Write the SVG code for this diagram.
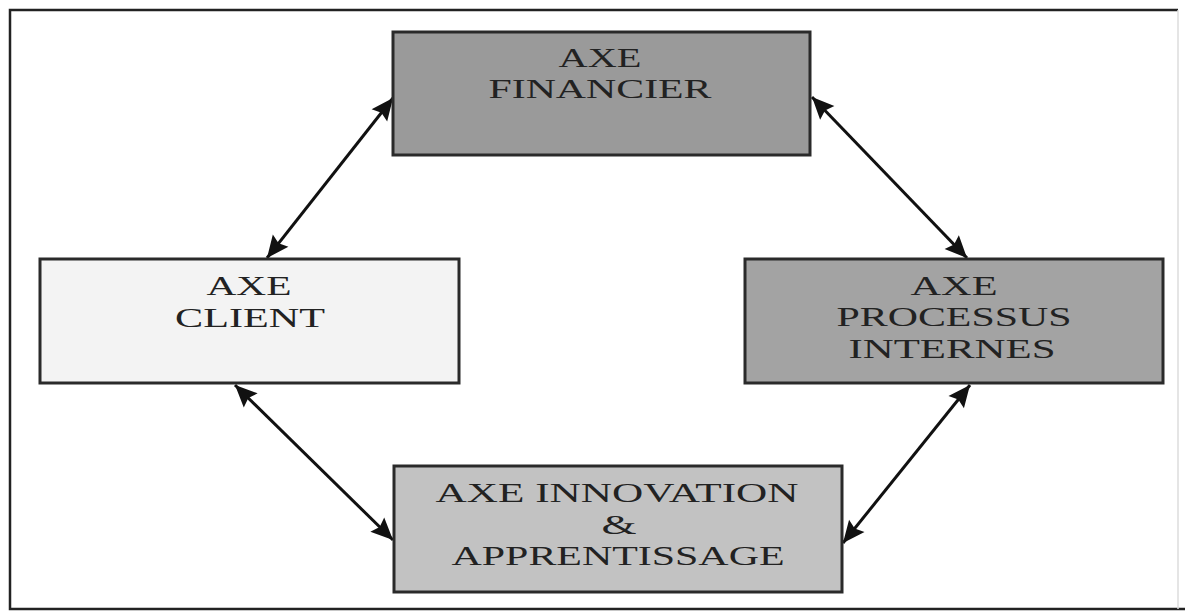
<svg xmlns="http://www.w3.org/2000/svg" width="1185" height="612" viewBox="0 0 1185 612">
<defs>
<style>
.box{stroke:#2a2a2a;stroke-width:3}
.lbl{font-family:"Liberation Serif","Times New Roman",serif;font-size:28px;fill:#222;text-anchor:middle}
.conn{stroke:#111;stroke-width:3;fill:none}
</style>
<marker id="ah" viewBox="0 0 10 10" refX="10" refY="5" markerWidth="26" markerHeight="22" markerUnits="userSpaceOnUse" orient="auto-start-reverse">
<path d="M0,0.5 L10,5 L0,9.5 L1.5,5 Z" fill="#111"/>
</marker>
</defs>
<rect width="1185" height="612" fill="#ffffff"/>
<path d="M1178,10 L10,10 L10,609 L1185,609" fill="none" stroke="#222" stroke-width="2.5"/>
<line x1="1178" y1="10" x2="1178" y2="609" stroke="#ddd" stroke-width="1.5"/>
<g id="connectors">
<line class="conn" x1="267" y1="258" x2="393" y2="98" marker-start="url(#ah)" marker-end="url(#ah)"/>
<line class="conn" x1="812" y1="97" x2="967" y2="258" marker-start="url(#ah)" marker-end="url(#ah)"/>
<line class="conn" x1="235" y1="385" x2="393" y2="540" marker-start="url(#ah)" marker-end="url(#ah)"/>
<line class="conn" x1="970" y1="385" x2="843" y2="543" marker-start="url(#ah)" marker-end="url(#ah)"/>
</g>
<g id="financier">
<rect class="box" x="393" y="32" width="417" height="123" fill="#9a9a9a"/>
<text class="lbl" x="600" y="67" textLength="83" lengthAdjust="spacingAndGlyphs">AXE</text>
<text class="lbl" x="600" y="98" textLength="223" lengthAdjust="spacingAndGlyphs">FINANCIER</text>
</g>
<g id="client">
<rect class="box" x="40" y="259" width="419" height="124" fill="#f3f3f3"/>
<text class="lbl" x="249" y="295" textLength="85" lengthAdjust="spacingAndGlyphs">AXE</text>
<text class="lbl" x="250" y="327" textLength="150" lengthAdjust="spacingAndGlyphs">CLIENT</text>
</g>
<g id="processus">
<rect class="box" x="745" y="259" width="418" height="124" fill="#a3a3a3"/>
<text class="lbl" x="954" y="295" textLength="87" lengthAdjust="spacingAndGlyphs">AXE</text>
<text class="lbl" x="954" y="326" textLength="235" lengthAdjust="spacingAndGlyphs">PROCESSUS</text>
<text class="lbl" x="952" y="358" textLength="207" lengthAdjust="spacingAndGlyphs">INTERNES</text>
</g>
<g id="innovation">
<rect class="box" x="394" y="466" width="448" height="126" fill="#c2c2c2"/>
<text class="lbl" x="617" y="502" textLength="363" lengthAdjust="spacingAndGlyphs">AXE INNOVATION</text>
<text class="lbl" x="619" y="534" textLength="35" lengthAdjust="spacingAndGlyphs">&amp;</text>
<text class="lbl" x="618" y="565" textLength="333" lengthAdjust="spacingAndGlyphs">APPRENTISSAGE</text>
</g>
</svg>
